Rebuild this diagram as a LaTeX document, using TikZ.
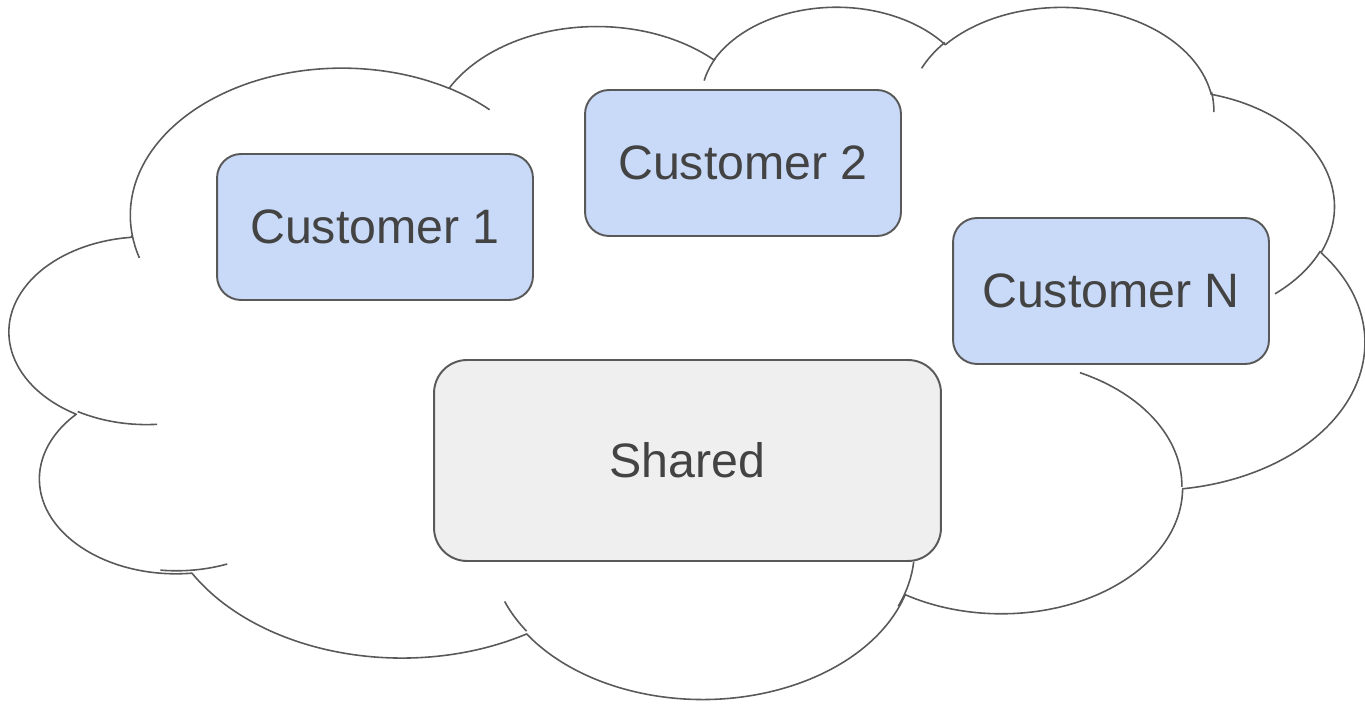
\documentclass[tikz,border=0pt]{standalone}
\usepackage{fontspec}
\setmainfont{Liberation Sans}
\usepackage{tikz}
\definecolor{customerblue}{HTML}{C9DAF8}
\definecolor{sharedgray}{HTML}{EFEFEF}
\definecolor{linegray}{HTML}{595959}
\definecolor{textgray}{HTML}{434343}

\begin{document}
\begin{tikzpicture}[x=0.02cm, y=-0.02cm]
	%defines
	\tikzstyle{customer} = [rectangle, rounded corners=0.48cm, minimum width=6.32cm, minimum height=2.92cm, text centered, draw=linegray, line width=1.1pt, fill=customerblue, text=textgray, font=\fontsize{27.5}{33}\selectfont]
	\tikzstyle{shared} = [rectangle, rounded corners=0.66cm, minimum width=10.14cm, minimum height=4.02cm, text centered, draw=linegray, line width=1.1pt, fill=sharedgray, text=textgray, font=\fontsize{27.5}{33}\selectfont]
	\tikzstyle{cloudline} = [draw=linegray, line width=0.9pt, line join=round]
	\tikzset{bump/.code n args={4}{%
		\pgfmathsetmacro\bumpfrom{atan2(#1*sin(#3),#2*cos(#3))}%
		\pgfmathsetmacro\bumpto{atan2(#1*sin(#3+#4),#2*cos(#3+#4))}%
		\pgfmathsetmacro\bumpto{\bumpto+360*(\bumpto<\bumpfrom)}%
		\pgfkeysalso{x radius=#1, y radius=#2, start angle=\bumpfrom, end angle=\bumpto}}}
	\useasboundingbox (0,0) rectangle (1365,705);
	%cloud
	\begin{scope}[shift={(0.2cm,-0.1cm)}]
	\begin{scope}[x=0.0062731cm, y=-0.0032037cm]
	\draw [cloudline, fill=white] (390,1437)
		arc[bump={675.3}{919}{-190.4875}{123.7805}]
		arc[bump={533.3}{726.7}{-144.1024}{89.9452}]
		arc[bump={436.5}{594.5}{-145.8079}{99.7230}]
		arc[bump={485.7}{659.5}{-130.9861}{117.2417}]
		arc[bump={533.3}{727.3}{-78.7089}{109.0269}]
		arc[bump={677.5}{922}{-46.2673}{130.269}]
		arc[bump={578.5}{786.7}{0.625}{114.0333}]
		arc[bump={675.2}{921.5}{22.4516}{115.1726}]
		arc[bump={772}{1054.3}{66.2426}{75.711}]
		arc[bump={436}{591.8}{-274.9421}{146.7356}]
		arc[bump={434.5}{594.5}{-246.8285}{152.5189}] -- cycle;
	\draw [cloudline]
		(469.3,2617.7) arc[bump={434.5}{594.5}{86.742}{26.4295}]
		(692.8,3489.9) arc[bump={436}{591.8}{73.6033}{21.4018}]
		(1647.8,3909) arc[bump={675.2}{921.5}{137.6242}{15}]
		(2882.7,3475.1) arc[bump={675.2}{921.5}{6.4533}{23.1348}]
		(3412.9,2295.4) arc[bump={578.5}{786.7}{-70.2924}{70.9174}]
		(4179.8,1535.4) arc[bump={533.3}{727.3}{30.318}{27.7515}]
		(3832.4,542.6) arc[bump={485.7}{659.5}{-13.7443}{14.8589}]
		(2907.8,395.2) arc[bump={485.7}{659.5}{-149.1815}{18.1954}]
		(2214.1,472) arc[bump={436.5}{594.5}{-163.4943}{17.6864}]
		(1400,519.2) arc[bump={675.3}{919}{-66.707}{12.3194}]
		(412.7,1578.9) arc[bump={675.3}{919}{157.6544}{11.8582}];
	\end{scope}
	\end{scope}
	%chart
	\node (customer1) [customer] at (375,227) {Customer 1};
	\node (customer2) [customer] at (743,163) {Customer 2};
	\node (customerN) [customer] at (1111,291) {Customer N};
	\node (shared) [shared] at (687.5,460.5) {Shared};
\end{tikzpicture}
\end{document}
